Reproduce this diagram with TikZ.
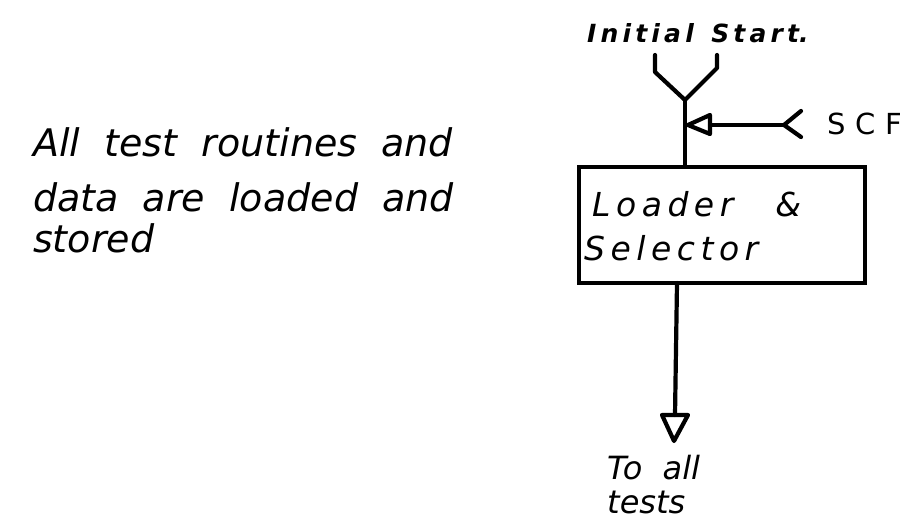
\documentclass[tikz,border=0pt]{standalone}
\usepackage{fontspec}
\setmainfont{DejaVu Sans}
\usetikzlibrary{calc}
\begin{document}
\begin{tikzpicture}[x=1pt,y=-1pt,
  ln/.style={line width=4.2pt, line cap=round, line join=round},
  hand/.style={font=\itshape, inner sep=0pt, anchor=west},
  boxstyle/.style={draw, line width=4.2pt, minimum width=286pt, minimum height=116pt, inner sep=0pt}]
\useasboundingbox (0,0) rectangle (909,527);
% texts
\node[hand, font=\itshape\fontsize{38}{38}\selectfont] (t1) at (33,142) {All\ \ test\ \ routines\ \ and};
\node[hand, font=\itshape\fontsize{38}{38}\selectfont] (t2) at (33,197) {data\ \ are\ \ loaded\ \ and};
\node[hand, font=\itshape\fontsize{38}{38}\selectfont] (t3) at (33,238) {stored};
\node[hand, font=\itshape\bfseries\fontsize{25}{25}\selectfont] (is) at (587,33) {I\,n\,i\,t\,i\,a\,l\ \ S\,t\,a\,r\,t.};
\node[hand, font=\fontsize{29}{29}\selectfont] (scf) at (827,124) {S\,\,C\,\,F};
% box
\node[boxstyle] (box) at (722,225) {};
\node[hand, font=\itshape\fontsize{33}{33}\selectfont] (l1) at (592,204) {L\,o\,a\,d\,e\,r\ \ \ \ \&};
\node[hand, font=\itshape\fontsize{33}{33}\selectfont] (l2) at (584,248) {S\,e\,l\,e\,c\,t\,o\,r};
% Y input
\coordinate (j) at (685,100);
\coordinate (la) at (655,55);
\coordinate (lb) at (655,72);
\coordinate (ra) at (717,55);
\coordinate (rb) at (717,68);
\draw[ln] (la) -- (lb) -- (j) -- (rb) -- (ra);
\draw[ln] (j) -- (j |- box.north);
% SCF arrow
\coordinate (tip) at (688,125);
\coordinate (bt) at (710,115);
\coordinate (bb) at (710,134);
\coordinate (fork) at (784,125);
\draw[ln] (tip) -- (bt) -- (bb) -- cycle;
\draw[ln] (710,125) -- (fork);
\draw[ln] (801,111) -- (fork) -- (801,137);
% output arrow
\coordinate (ot) at (675,415);
\draw[ln] (677,283) -- (ot);
\draw[ln] (662,415) -- (688,415) -- (674,441) -- cycle;
\node[hand, font=\itshape\fontsize{32}{32}\selectfont] (o1) at (607,468) {To\ \ all};
\node[hand, font=\itshape\fontsize{32}{32}\selectfont] (o2) at (607,502) {tests};
\end{tikzpicture}
\end{document}
